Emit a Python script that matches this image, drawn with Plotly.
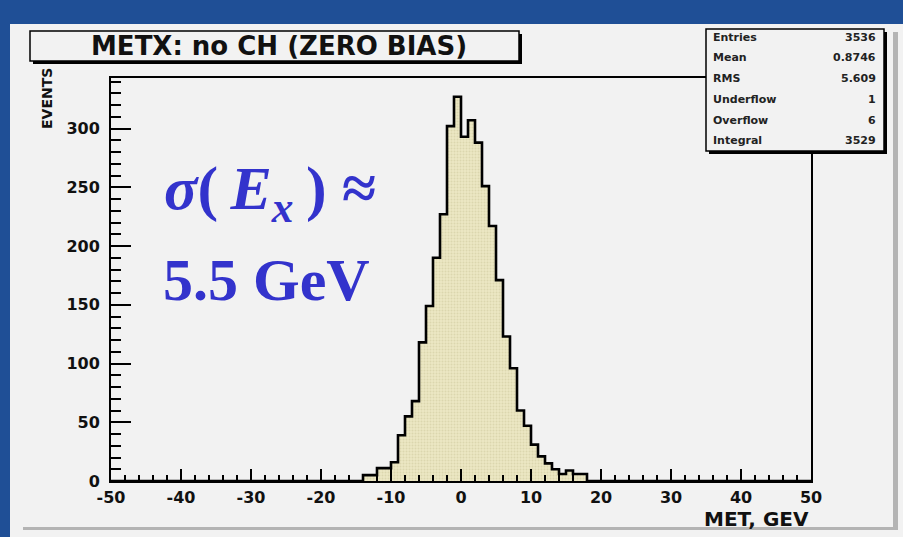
import numpy as np
import plotly.graph_objects as go

W, H = 903, 537

# ---- data -------------------------------------------------------------
# METX histogram, 1 GeV bins on [-50, 50]; bins outside the listed range are empty
met_lo, met_hi, bin_width = -50, 50, 1
first_filled_bin = -14
events = [5, 5, 11, 11, 16, 39, 55, 68, 118, 149,
          190, 227, 302, 327, 293, 307, 288, 251, 217,
          171, 123, 96, 60, 47, 31, 21, 15, 10, 6, 9, 6, 6]

stat_names = ["Entries", "Mean", "RMS", "Underflow", "Overflow", "Integral"]
stat_values = ["3536", "0.8746", "5.609", "1", "6", "3529"]

x_tick_vals = [-50, -40, -30, -20, -10, 0, 10, 20, 30, 40, 50]
x_tick_text = ["-50", "-40", "-30", "-20", "-10", "0", "10", "20", "30", "40", "50"]
y_tick_vals = [0, 50, 100, 150, 200, 250, 300]

hist_title = "METX: no CH (ZERO BIAS)"
x_title = "MET, GEV"
y_title = "EVENTS"

# ---- build the step outline ------------------------------------------
edges = np.arange(met_lo, met_hi + bin_width, bin_width)
counts = np.zeros(len(edges) - 1)
i0 = int((first_filled_bin - met_lo) / bin_width)
counts[i0:i0 + len(events)] = events
step_y = np.append(counts, counts[-1])

# ---- layout helpers (figure pixel -> paper, paper spans the frame) ----
L, R, T, B = 111, 811, 78, 481      # frame in pixels


def px(x):
    return (x - L) / (R - L)


def py(y):
    return (B - y) / (B - T)


ROOT_FONT = "DejaVu Sans"
BLUE_BG = "#1f4f96"
CANVAS = "#f2f2f2"

fig = go.Figure()

fig.add_trace(go.Scatter(
    x=edges, y=step_y, mode="lines", line_shape="hv",
    line=dict(color="black", width=2.6),
    fill="tozeroy", fillcolor="#e6e1b9",
    fillpattern=dict(shape=".", fgcolor="#cdc697", bgcolor="#ebe7c4",
                     size=3, solidity=0.35),
    hoverinfo="skip", showlegend=False,
))

shapes = []
# light canvas over the blue slide background
shapes.append(dict(type="rect", xref="paper", yref="paper",
                   x0=px(10), x1=px(903), y0=py(537), y1=py(24),
                   fillcolor=CANVAS, line_width=0, layer="below"))
# canvas bevel (right and bottom)
shapes.append(dict(type="rect", xref="paper", yref="paper",
                   x0=px(893), x1=px(898), y0=py(530), y1=py(32),
                   fillcolor="#b4b4b4", line_width=0, layer="below"))
shapes.append(dict(type="rect", xref="paper", yref="paper",
                   x0=px(23), x1=px(898), y0=py(530), y1=py(527),
                   fillcolor="#b4b4b4", line_width=0, layer="below"))


def boxed(x0, y0, x1, y1, shadow=3):
    # drop shadow then box
    shapes.append(dict(type="rect", xref="paper", yref="paper",
                       x0=px(x0 + shadow), x1=px(x1 + shadow),
                       y0=py(y1 + shadow), y1=py(y0 + shadow),
                       fillcolor="black", line_width=0, layer="above"))
    shapes.append(dict(type="rect", xref="paper", yref="paper",
                       x0=px(x0), x1=px(x1), y0=py(y1), y1=py(y0),
                       fillcolor=CANVAS, line=dict(color="black", width=1.5),
                       layer="above"))


boxed(30, 31, 519, 61)      # title box
boxed(706, 29, 884, 151)    # statistics box

annotations = []
annotations.append(dict(
    text=f"<b>{hist_title}</b>", xref="paper", yref="paper", x=px(279), y=py(46),
    xanchor="center", yanchor="middle", showarrow=False,
    font=dict(family=ROOT_FONT, size=26, color="#111")))

row_y = [38, 58, 78, 99, 120, 140]
for name, val, ry in zip(stat_names, stat_values, row_y):
    annotations.append(dict(text=f"<b>{name}</b>", xref="paper", yref="paper",
                            x=px(711), y=py(ry), xanchor="left", yanchor="middle",
                            showarrow=False,
                            font=dict(family=ROOT_FONT, size=11, color="#222")))
    annotations.append(dict(text=f"<b>{val}</b>", xref="paper", yref="paper",
                            x=px(878), y=py(ry), xanchor="right", yanchor="middle",
                            showarrow=False,
                            font=dict(family=ROOT_FONT, size=11, color="#222")))

annotations.append(dict(
    text=f"<b>{y_title}</b>", xref="paper", yref="paper", x=px(47), y=py(99),
    xanchor="center", yanchor="middle", textangle=-90, showarrow=False,
    font=dict(family=ROOT_FONT, size=14, color="#111")))
annotations.append(dict(
    text=f"<b>{x_title}</b>", xref="paper", yref="paper", x=px(811), y=py(519),
    xanchor="right", yanchor="middle", showarrow=False,
    font=dict(family=ROOT_FONT, size=20, color="#111")))

# resolution note in blue serif
SERIF = "Liberation Serif"
annotations.append(dict(
    text="<b><i>σ</i>(\u2009<i>E</i><sub><i>x</i></sub>\u2009) ≈</b>",
    xref="paper", yref="paper", x=px(162), y=py(192),
    xanchor="left", yanchor="middle", showarrow=False,
    font=dict(family=SERIF, size=62, color="#3333cc")))
annotations.append(dict(
    text="<b>5.5 GeV</b>",
    xref="paper", yref="paper", x=px(161), y=py(280),
    xanchor="left", yanchor="middle", showarrow=False,
    font=dict(family=SERIF, size=60, color="#3333cc")))

fig.update_layout(
    width=W, height=H,
    margin=dict(l=L, r=W - R, t=T, b=H - B, pad=0),
    paper_bgcolor=BLUE_BG, plot_bgcolor=CANVAS,
    shapes=shapes, annotations=annotations,
    showlegend=False,
)

fig.update_xaxes(
    range=[met_lo, met_hi], showgrid=False, zeroline=False,
    showline=True, linecolor="black", linewidth=2, mirror=True,
    ticks="inside", ticklen=12, tickwidth=2, tickcolor="black",
    tickvals=x_tick_vals, ticktext=x_tick_text,
    minor=dict(ticks="inside", dtick=2, ticklen=6, tickwidth=2, tickcolor="black",
               showgrid=False),
    tickfont=dict(family=ROOT_FONT, size=16, color="#111", weight="bold"),
    ticklabelstandoff=1,
)
fig.update_yaxes(
    range=[0, 343], showgrid=False, zeroline=False,
    showline=True, linecolor="black", linewidth=2, mirror=True,
    ticks="inside", ticklen=20, tickwidth=2, tickcolor="black",
    tickvals=y_tick_vals,
    minor=dict(ticks="inside", dtick=10, ticklen=10, tickwidth=2, tickcolor="black",
               showgrid=False),
    tickfont=dict(family=ROOT_FONT, size=16, color="#111", weight="bold"),
    ticklabelstandoff=6,
)

fig.write_html("out.html")
